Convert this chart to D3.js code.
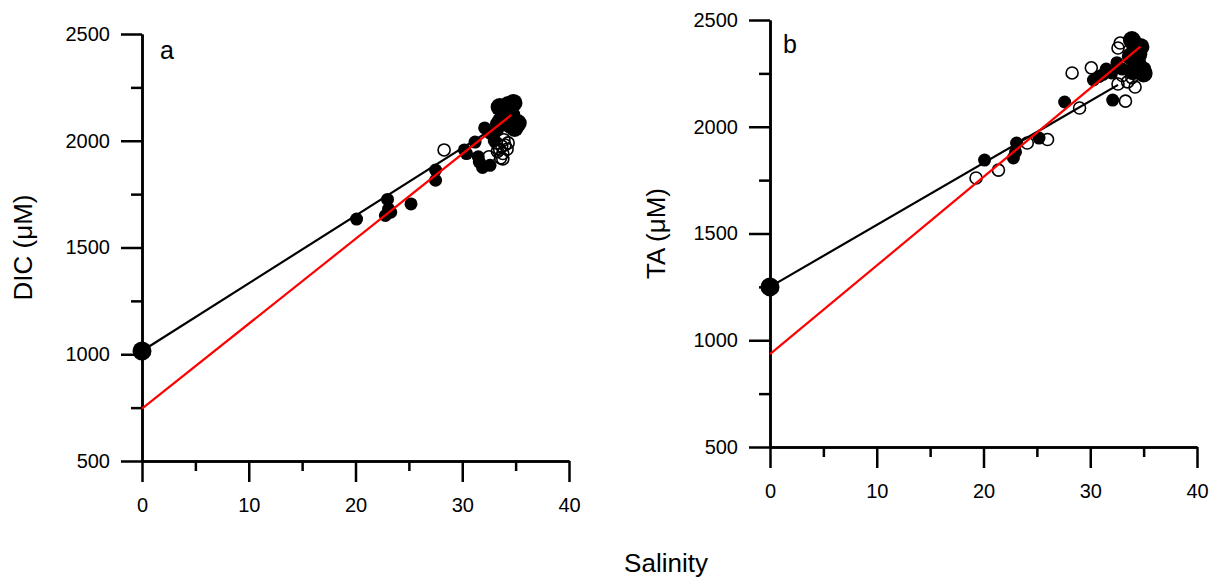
<!DOCTYPE html>
<html lang="en">
<head>
    <meta charset="UTF-8">
    <title>DIC and TA vs Salinity</title>
    <script src="https://d3js.org/d3.v7.min.js"></script>
    <style>
        body, html {
            margin: 0;
            padding: 0;
            background: #fff;
            font-family: "Liberation Sans", Arial, sans-serif;
        }
        .axis path, .axis line {
            stroke: #000;
            stroke-width: 2.5;
        }
        .axis text {
            font-family: "Liberation Sans", Arial, sans-serif;
            font-size: 20px;
            fill: #000;
        }
        .title {
            font-size: 26px;
            fill: #000;
        }
    </style>
</head>
<body>
<div id="chart"></div>
<script>
// ---- data ----
const salinityTicks = [0, 10, 20, 30, 40];
const concTicks = [500, 1000, 1500, 2000, 2500];

// panel a: DIC
const dicEndMember = [[0, 1015]];
const dicFilled = [
    [20.1, 1633], [23.0, 1725], [23.1, 1680], [22.8, 1650], [23.3, 1665],
    [25.2, 1704], [27.5, 1863], [27.5, 1815], [30.2, 1957], [30.4, 1940],
    [31.2, 1994], [31.6, 1900], [31.9, 1875], [32.6, 1885], [31.5, 1925],
    [32.1, 2060], [32.6, 2036], [33.3, 2050], [33.0, 2000], [33.2, 2080]
];
const dicFilledLarge = [
    [33.5, 2158], [34.3, 2167], [34.8, 2177], [34.0, 2140], [35.2, 2083],
    [34.9, 2060], [34.6, 2120], [33.9, 2100], [34.5, 2075], [33.6, 2090]
];
const dicOpen = [
    [28.3, 1957], [32.5, 1925], [33.2, 1990], [33.5, 1960], [33.8, 1940],
    [34.0, 1980], [33.6, 1920], [33.9, 2005], [34.2, 1960], [33.3, 1950],
    [33.7, 1975], [34.3, 1990], [33.8, 1915]
];
const dicFitAll = [[0, 1015], [34.6, 2112]];
const dicFitSea = [[0, 745], [34.6, 2121]];

// panel b: TA
const taEndMember = [[0, 1250]];
const taFilled = [
    [20.1, 1844], [22.8, 1854], [23.0, 1882], [23.1, 1924], [25.2, 1947],
    [27.6, 2116], [30.3, 2219], [30.8, 2235], [31.5, 2270], [32.0, 2252],
    [32.1, 2125], [31.2, 2245], [32.5, 2300], [33.0, 2270]
];
const taFilledLarge = [
    [33.9, 2406], [34.2, 2380], [34.7, 2374], [34.5, 2340], [34.9, 2266],
    [34.4, 2300], [33.8, 2330], [35.0, 2250], [34.0, 2260]
];
const taOpen = [
    [19.3, 1760], [21.4, 1797], [24.1, 1924], [26.0, 1940], [29.0, 2088],
    [28.3, 2252], [30.1, 2276], [32.8, 2392], [32.6, 2369], [33.3, 2120],
    [34.2, 2186], [33.5, 2210], [33.0, 2240], [32.6, 2200], [33.9, 2230]
];
const taFitAll = [[0, 1250], [32.6, 2196]];
const taFitSea = [[0, 935], [34.7, 2375]];

const panels = [
    { label: "a", title: "DIC (\u03bcM)", left: 142, top: 34, labelDx: 18, labelDy: 25, titleX: 32,
      end: dicEndMember, filled: dicFilled, large: dicFilledLarge, open: dicOpen,
      fitAll: dicFitAll, fitSea: dicFitSea },
    { label: "b", title: "TA (\u03bcM)", left: 770, top: 20, labelDx: 13, labelDy: 33, titleX: 665,
      end: taEndMember, filled: taFilled, large: taFilledLarge, open: taOpen,
      fitAll: taFitAll, fitSea: taFitSea }
];

const W = 1213, H = 579, size = 427;

const svg = d3.select("#chart").append("svg")
    .attr("width", W)
    .attr("height", H)
    .style("display", "block");

svg.append("rect").attr("width", W).attr("height", H).attr("fill", "#fff");

panels.forEach(p => {
    const g = svg.append("g").attr("transform", `translate(${p.left},${p.top})`);

    const x = d3.scaleLinear().domain([0, 40]).range([0, size]);
    const y = d3.scaleLinear().domain([500, 2500]).range([size, 0]);

    // minor ticks
    g.append("g").attr("class", "axis")
        .attr("transform", `translate(0,${size})`)
        .call(d3.axisBottom(x).tickValues(d3.range(5, 40, 10)).tickSize(10).tickSizeOuter(0).tickFormat(""));
    g.append("g").attr("class", "axis")
        .call(d3.axisLeft(y).tickValues(d3.range(750, 2500, 500)).tickSize(11).tickSizeOuter(0).tickFormat(""));

    // major ticks
    const xa = g.append("g").attr("class", "axis")
        .attr("transform", `translate(0,${size})`)
        .call(d3.axisBottom(x).tickValues(salinityTicks).tickSize(21).tickSizeOuter(0).tickFormat(d3.format("d")));
    xa.selectAll("text").attr("y", 44).attr("dy", "0.35em");

    g.append("g").attr("class", "axis")
        .call(d3.axisLeft(y).tickValues(concTicks).tickSize(21).tickPadding(11).tickSizeOuter(0).tickFormat(d3.format("d")));

    const line = d3.line().x(d => x(d[0])).y(d => y(d[1]));

    g.append("path").datum(p.fitAll)
        .attr("d", line).attr("fill", "none").attr("stroke", "#000").attr("stroke-width", 2.2);

    g.selectAll(".open").data(p.open).enter().append("circle")
        .attr("cx", d => x(d[0])).attr("cy", d => y(d[1])).attr("r", 6)
        .attr("fill", "none").attr("stroke", "#000").attr("stroke-width", 1.6);

    g.selectAll(".filled").data(p.filled).enter().append("circle")
        .attr("cx", d => x(d[0])).attr("cy", d => y(d[1])).attr("r", 6.5)
        .attr("fill", "#000");

    g.selectAll(".large").data(p.large).enter().append("circle")
        .attr("cx", d => x(d[0])).attr("cy", d => y(d[1])).attr("r", 9)
        .attr("fill", "#000");

    g.selectAll(".end").data(p.end).enter().append("circle")
        .attr("cx", d => x(d[0])).attr("cy", d => y(d[1])).attr("r", 9.5)
        .attr("fill", "#000");

    g.append("path").datum(p.fitSea)
        .attr("d", line).attr("fill", "none").attr("stroke", "#ff0000").attr("stroke-width", 2.2);

    g.append("text")
        .attr("x", p.labelDx).attr("y", p.labelDy)
        .attr("font-size", 25)
        .text(p.label);

    svg.append("text").attr("class", "title")
        .attr("transform", `translate(${p.titleX},${p.top + size / 2}) rotate(-90)`)
        .attr("text-anchor", "middle")
        .text(p.title);
});

svg.append("text").attr("class", "title")
    .attr("x", 666).attr("y", 572)
    .attr("text-anchor", "middle")
    .text("Salinity");
</script>
</body>
</html>
